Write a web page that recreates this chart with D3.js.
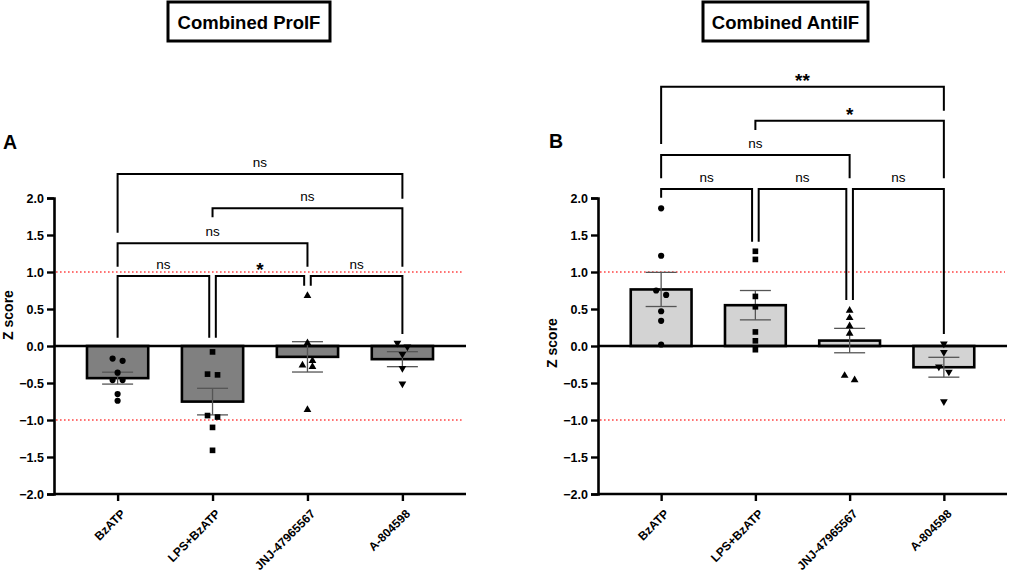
<!DOCTYPE html>
<html>
<head>
<meta charset="utf-8">
<script src="https://cdn.jsdelivr.net/npm/d3@7"></script>
<style>
  body { margin: 0; background: #fff; }
  svg { display: block; font-family: "Liberation Sans", Arial, sans-serif; }
</style>
</head>
<body>
<svg id="chart" width="1010" height="572"></svg>
<script>
// ---------------- DATA ----------------
const categories = ["BzATP", "LPS+BzATP", "JNJ-47965567", "A-804598"];
const markerShapes = ["circle", "square", "triangle", "triangleDown"];

// Panel A: Combined ProIF (individual Z scores per group)
const proBzATP = [-0.17, -0.20, -0.36, -0.46, -0.46, -0.65, -0.74];
const proLPS   = [-0.08, -0.38, -0.39, -0.94, -0.96, -1.10, -1.41];
const proJNJ   = [0.68, 0.04, -0.20, -0.26, -0.28, -0.86];
const proA80   = [0.04, -0.01, -0.11, -0.30, -0.51];

// Panel B: Combined AntiIF
const antiBzATP = [1.86, 1.22, 0.75, 0.69, 0.47, 0.34, 0.02];
const antiLPS   = [1.28, 1.17, 0.67, 0.53, 0.19, 0.07, -0.05];
const antiJNJ   = [0.48, 0.38, 0.27, 0.17, -0.40, -0.46];
const antiA80   = [0.03, -0.085, -0.28, -0.35, -0.75];

const yTicks = [-2.0, -1.5, -1.0, -0.5, 0.0, 0.5, 1.0, 1.5, 2.0];
const refLines = [1, -1];

// significance brackets: groups a-b, level (Z units), leg ends (Z units), label
const proBrackets = [
  { a: 0, b: 3, level: 2.324, endA: 1.531, endB: 1.99,  label: "ns" },
  { a: 1, b: 3, level: 1.861, endA: 1.739, endB: 1.072, label: "ns" },
  { a: 0, b: 2, level: 1.388, endA: 1.072, endB: 1.072, label: "ns" },
  { a: 0, b: 1, level: 0.946, endA: 0.112, endB: 0.112, label: "ns" },
  { a: 1, b: 2, level: 0.946, endA: 0.112, endB: 0.815, label: "*" },
  { a: 2, b: 3, level: 0.946, endA: 0.815, endB: 0.162, label: "ns" }
];
const antiBrackets = [
  { a: 0, b: 3, level: 3.504, endA: 2.730, endB: 3.18,  label: "**" },
  { a: 1, b: 3, level: 3.045, endA: 2.919, endB: 2.266, label: "*" },
  { a: 0, b: 2, level: 2.581, endA: 2.266, endB: 2.266, label: "ns" },
  { a: 0, b: 1, level: 2.122, endA: 2.004, endB: 1.409, label: "ns" },
  { a: 1, b: 2, level: 2.122, endA: 1.409, endB: 0.622, label: "ns" },
  { a: 2, b: 3, level: 2.122, endA: 0.622, endB: 0.162, label: "ns" }
];

const panels = [
  { id: "A", title: "Combined ProIF", series: [proBzATP, proLPS, proJNJ, proA80],
    brackets: proBrackets, x0: 54, x1: 466, fill: "#808080",
    box: [168, 2, 330, 41], letterX: 3, letterY: 149, ylabX: 13, ylabY: 315 },
  { id: "B", title: "Combined AntiIF", series: [antiBzATP, antiLPS, antiJNJ, antiA80],
    brackets: antiBrackets, x0: 598, x1: 1007, fill: "#d3d3d3",
    box: [703, 2, 868, 41], letterX: 549, letterY: 148, ylabX: 557, ylabY: 343 }
];

// ---------------- DRAW ----------------
const svg = d3.select("#chart");
const y = d3.scaleLinear().domain([-2, 2]).range([494, 198]);

function symbolFor(shape) {
  if (shape === "circle") return d3.symbol(d3.symbolCircle, 30)();
  if (shape === "square") return d3.symbol(d3.symbolSquare, 32)();
  return d3.symbol(d3.symbolTriangle, 26)();
}

function jitterOffsets(vals) {
  const order = vals.map((v, i) => i).sort((p, q) => vals[q] - vals[p]);
  const off = new Array(vals.length).fill(0);
  const clusters = [];
  let cur = [order[0]];
  for (let k = 1; k < order.length; k++) {
    const prev = cur[cur.length - 1];
    if (Math.abs(y(vals[order[k]]) - y(vals[prev])) < 6) cur.push(order[k]);
    else { clusters.push(cur); cur = [order[k]]; }
  }
  clusters.push(cur);
  clusters.forEach(c => {
    if (c.length < 2) return;
    const start = c.length % 2 ? 1 : -1;
    c.forEach((idx, j) => { off[idx] = 5 * start * (j % 2 ? -1 : 1); });
  });
  return off;
}

panels.forEach(p => {
  const g = svg.append("g");
  const x = d3.scalePoint().domain(categories).range([p.x0, p.x1]).padding(0.67);
  const step = x.step();
  const barW = step * 0.645;

  // title box
  g.append("rect").attr("x", p.box[0]).attr("y", p.box[1])
    .attr("width", p.box[2] - p.box[0]).attr("height", p.box[3] - p.box[1])
    .attr("fill", "none").attr("stroke", "#000").attr("stroke-width", 3);
  g.append("text").attr("x", (p.box[0] + p.box[2]) / 2).attr("y", 28.5)
    .attr("text-anchor", "middle").attr("font-size", 18.5).attr("font-weight", "bold")
    .attr("fill", "#000").text(p.title);

  // panel letter
  g.append("text").attr("x", p.letterX).attr("y", p.letterY)
    .attr("font-size", 19.5).attr("font-weight", "bold").attr("fill", "#000").text(p.id);

  // y label
  g.append("text").attr("transform", `translate(${p.ylabX},${p.ylabY}) rotate(-90)`)
    .attr("text-anchor", "middle").attr("font-size", 14).attr("font-weight", "bold")
    .attr("fill", "#000").text("Z score");

  // reference dotted lines
  g.selectAll(".ref").data(refLines).enter().append("line")
    .attr("x1", p.x0 + 2).attr("x2", p.x1 - 2)
    .attr("y1", d => y(d)).attr("y2", d => y(d))
    .attr("stroke", "#ff4444").attr("stroke-width", 1.6)
    .attr("stroke-dasharray", "1.6,2.4");

  // bars
  const stats = p.series.map(v => {
    const m = d3.mean(v);
    const sem = d3.deviation(v) / Math.sqrt(v.length);
    return { m, sem };
  });
  g.selectAll(".bar").data(categories).enter().append("rect")
    .attr("x", d => x(d) - barW / 2).attr("width", barW)
    .attr("y", (d, i) => Math.min(y(0), y(stats[i].m)))
    .attr("height", (d, i) => Math.abs(y(stats[i].m) - y(0)))
    .attr("fill", p.fill).attr("stroke", "#000").attr("stroke-width", 2.6);

  // zero line
  g.append("line").attr("x1", p.x0).attr("x2", p.x1)
    .attr("y1", y(0)).attr("y2", y(0)).attr("stroke", "#000").attr("stroke-width", 2.4);

  // y axis
  const yAxis = d3.axisLeft(y).tickValues(yTicks).tickSize(7).tickPadding(3)
    .tickFormat(d3.format(".1f"));
  const ya = g.append("g").attr("transform", `translate(${p.x0},0)`).call(yAxis);
  ya.select(".domain").attr("stroke-width", 2.6);
  ya.selectAll(".tick line").attr("stroke-width", 2.4);
  ya.selectAll(".tick text").attr("font-size", 12.5).attr("font-weight", "bold")
    .attr("font-family", "Liberation Sans, Arial, sans-serif").attr("fill", "#000");

  // x axis
  const xAxis = d3.axisBottom(x).tickSize(7).tickSizeOuter(0);
  const xa = g.append("g").attr("transform", `translate(0,${y(-2)})`).call(xAxis);
  xa.select(".domain").attr("stroke-width", 2.6).attr("d", `M${p.x0},0H${p.x1}`);
  xa.selectAll(".tick line").attr("stroke-width", 2.4);
  xa.selectAll(".tick text")
    .attr("font-size", 12).attr("font-weight", "bold")
    .attr("font-family", "Liberation Sans, Arial, sans-serif").attr("fill", "#000")
    .attr("text-anchor", "end").attr("dy", null).attr("y", null)
    .attr("transform", "translate(8,20.5) rotate(-45)");

  // error bars
  const eb = g.selectAll(".eb").data(categories).enter().append("g");
  eb.append("line").attr("x1", d => x(d)).attr("x2", d => x(d))
    .attr("y1", (d, i) => y(stats[i].m + stats[i].sem))
    .attr("y2", (d, i) => y(stats[i].m - stats[i].sem))
    .attr("stroke", "#555").attr("stroke-width", 1.3);
  [1, -1].forEach(s => {
    eb.append("line").attr("x1", d => x(d) - 15.5).attr("x2", d => x(d) + 15.5)
      .attr("y1", (d, i) => y(stats[i].m + s * stats[i].sem))
      .attr("y2", (d, i) => y(stats[i].m + s * stats[i].sem))
      .attr("stroke", "#555").attr("stroke-width", 1.3);
  });

  // points
  p.series.forEach((vals, i) => {
    const off = jitterOffsets(vals);
    const shape = markerShapes[i];
    g.selectAll(null).data(vals).enter().append("path")
      .attr("d", symbolFor(shape))
      .attr("transform", (v, j) => `translate(${x(categories[i]) + off[j]},${y(v)})` +
        (shape === "triangleDown" ? " rotate(180)" : ""))
      .attr("fill", "#000");
  });

  // brackets
  const shiftFor = (br, end) => {
    const cat = end === "a" ? br.a : br.b;
    const shared = p.brackets.some(o => o !== br && o.level === br.level &&
      (o.a === cat || o.b === cat));
    if (!shared) return 0;
    return end === "a" ? 3.3 : -3.3;
  };
  p.brackets.forEach(br => {
    const xa_ = x(categories[br.a]) + shiftFor(br, "a");
    const xb_ = x(categories[br.b]) + shiftFor(br, "b");
    g.append("path")
      .attr("d", `M${xa_},${y(br.endA)}V${y(br.level)}H${xb_}V${y(br.endB)}`)
      .attr("fill", "none").attr("stroke", "#000").attr("stroke-width", 2);
    const isStar = br.label.indexOf("*") >= 0;
    g.append("text").attr("x", (xa_ + xb_) / 2)
      .attr("y", y(br.level) - (isStar ? 0 : 7))
      .attr("text-anchor", "middle")
      .attr("font-size", isStar ? 19 : 13.5)
      .attr("font-weight", isStar ? "bold" : "normal")
      .attr("fill", "#000")
      .text(br.label);
  });
});
</script>
</body>
</html>
